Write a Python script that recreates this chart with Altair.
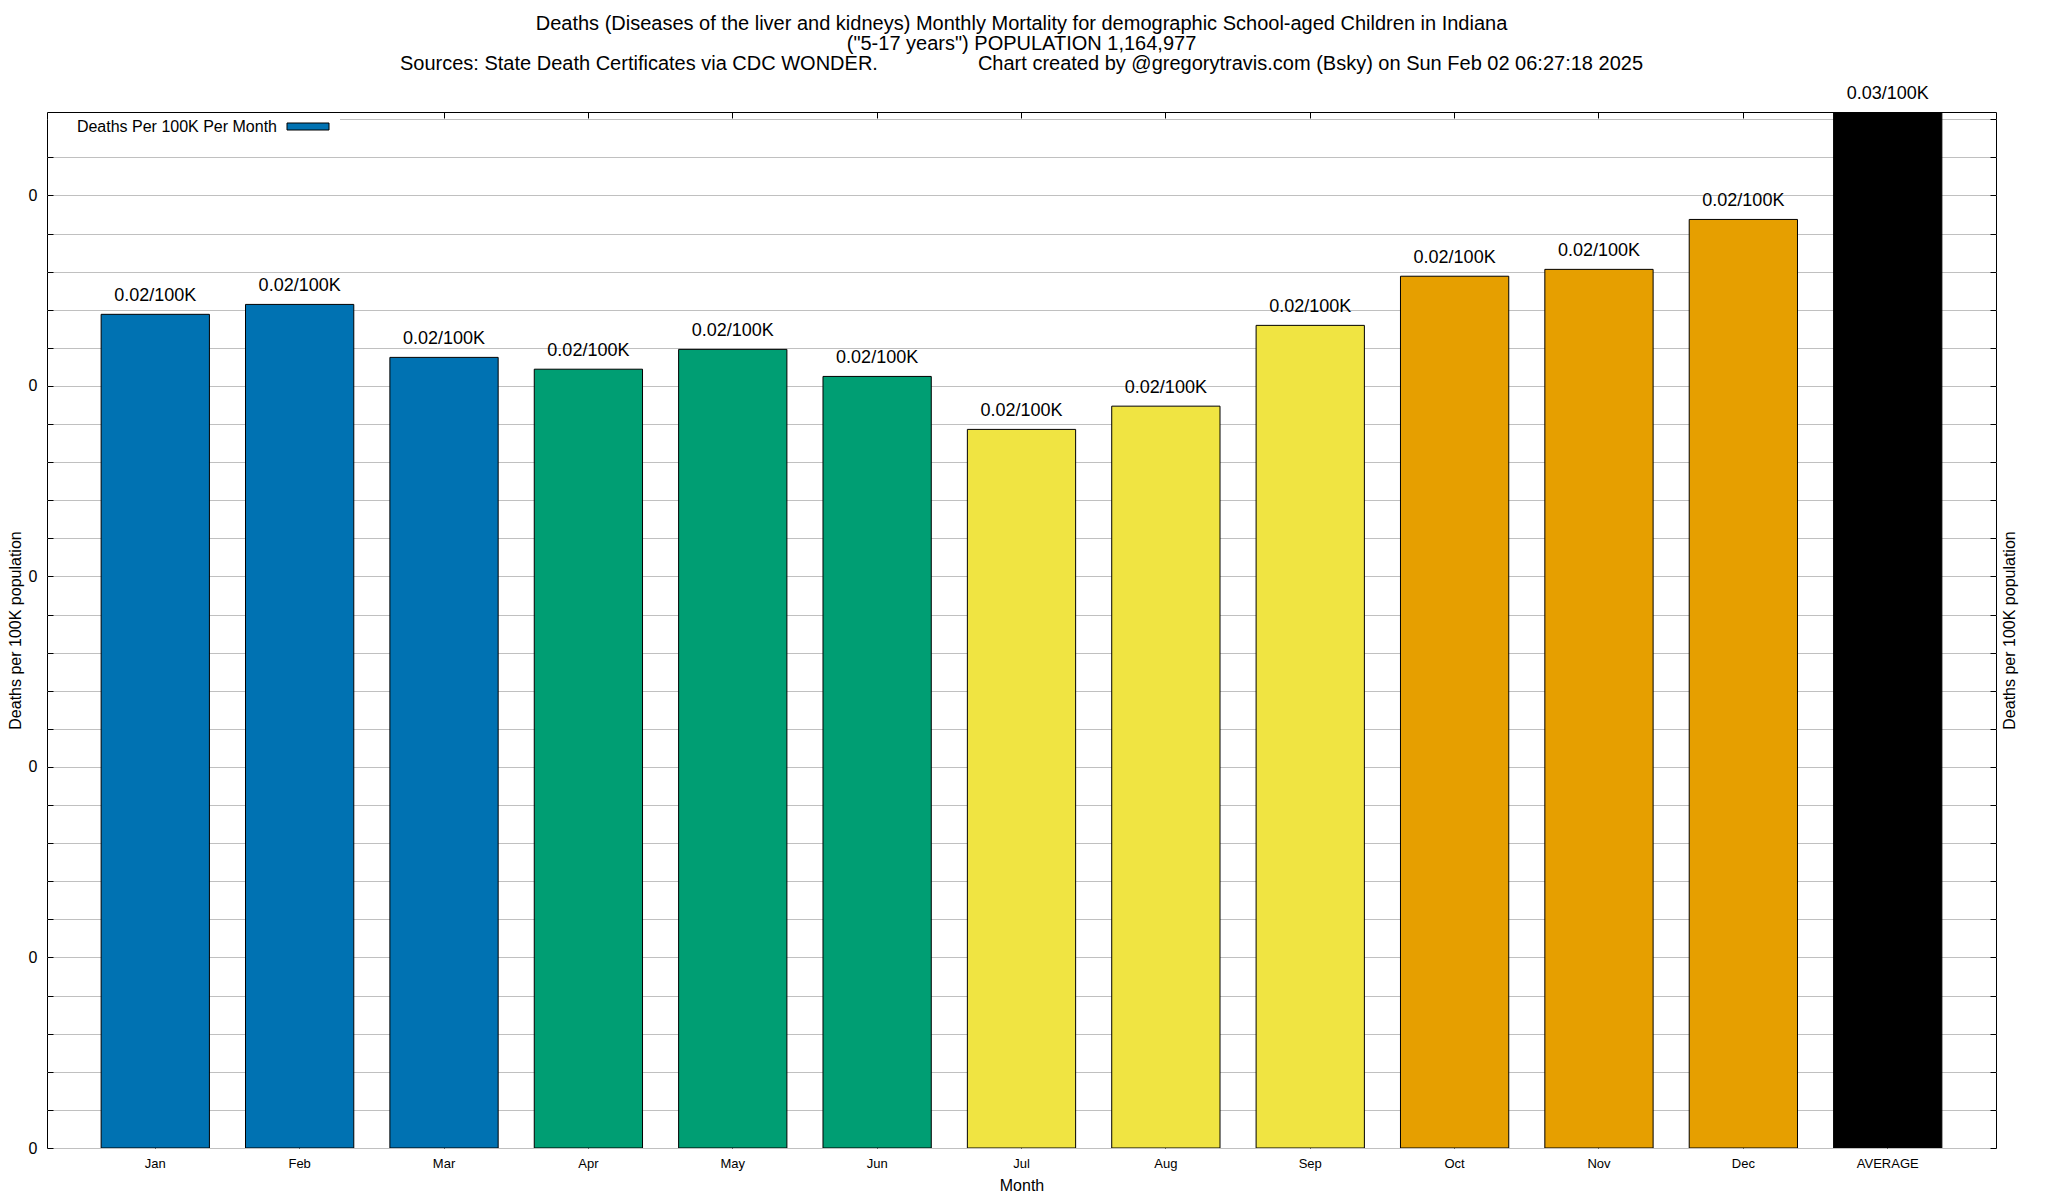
import altair as alt
import pandas as pd

# ---- data ----
months = ["Jan", "Feb", "Mar", "Apr", "May", "Jun", "Jul", "Aug", "Sep", "Oct", "Nov", "Dec", "AVERAGE"]
rates = [0.02188, 0.02214, 0.02075, 0.02044, 0.02096, 0.02025, 0.01886, 0.01947,
         0.02159, 0.02288, 0.02306, 0.02437, 0.02719]
groups = ["Q1", "Q1", "Q1", "Q2", "Q2", "Q2", "Q3", "Q3", "Q3", "Q4", "Q4", "Q4", "AVG"]
group_names = ["Q1", "Q2", "Q3", "Q4", "AVG"]
group_colors = ["#0072b2", "#009e73", "#f0e442", "#e69f00", "#000000"]
y_top = 0.02719
y_ticks = [round(i * 0.001, 3) for i in range(28)]
legend_label = ["Deaths Per 100K Per Month"]
title_lines = [
    "Deaths (Diseases of the liver and kidneys) Monthly Mortality for demographic School-aged Children in Indiana",
    "(\"5-17 years\") POPULATION 1,164,977",
    "Sources: State Death Certificates via CDC WONDER." + "\u00a0" * 18
    + "Chart created by @gregorytravis.com (Bsky) on Sun Feb 02 06:27:18 2025",
]

df = pd.DataFrame({"month": months, "value": rates, "group": groups})

FONT = "Liberation Sans"
W, H = 1949, 1036
TICK = 6

xscale = alt.Scale(domain=months, paddingInner=0.25, paddingOuter=0.375)
yscale = alt.Scale(domain=[0, y_top], nice=False, zero=True)

major_test = "round(datum.value*1000) % 5 == 0"

bars = alt.Chart(df).mark_bar(stroke="black", strokeWidth=1, clip=True).encode(
    x=alt.X("month:N", sort=months, scale=xscale, title="Month",
            axis=alt.Axis(orient="bottom", offset=-TICK, tickSize=TICK, tickColor="black",
                          domain=False, labelAngle=0, labelFontSize=13, labelPadding=9,
                          labelColor="black", titleFontSize=16, titleFontWeight="normal",
                          titlePadding=7, titleColor="black", grid=False)),
    y=alt.Y("value:Q", scale=yscale, title="Deaths per 100K population",
            axis=alt.Axis(orient="left", values=y_ticks, offset=-TICK, tickSize=TICK,
                          tickColor="black", domain=False, grid=True, gridColor="#c0c0c0",
                          gridWidth=1,
                          labelExpr=f"{major_test} ? format(datum.value, '.0f') : ''",
                          labelFontSize=16, labelPadding=10, labelColor="black",
                          titleFontSize=16, titleFontWeight="normal", titleColor="black",
                          titleAngle=270, titleX=-38, titleY=H / 2, titleBaseline="middle",
                          titleAlign="center")),
    fill=alt.Fill("group:N", scale=alt.Scale(domain=group_names, range=group_colors), legend=None),
)

labels = alt.Chart(df).transform_calculate(
    label="format(datum.value, '.2f') + '/100K'"
).mark_text(fontSize=18, baseline="middle", dy=-18, color="black").encode(
    x=alt.X("month:N", sort=months, scale=xscale, title=None,
            axis=alt.Axis(orient="top", offset=-TICK, tickSize=TICK, tickColor="black",
                          domain=False, labels=False, grid=False)),
    y=alt.Y("value:Q", scale=yscale, title="Deaths per 100K population",
            axis=alt.Axis(orient="right", values=y_ticks, offset=-TICK, tickSize=TICK,
                          tickColor="black", domain=False, grid=False, labels=False,
                          titleFontSize=16, titleFontWeight="normal", titleColor="black",
                          titleAngle=270, titleX=19, titleY=H / 2, titleBaseline="middle",
                          titleAlign="center")),
    text="label:N",
)

leg_df = pd.DataFrame({"t": legend_label})
leg_box = alt.Chart(leg_df).mark_rect(fill="white").encode(
    x=alt.value(1), x2=alt.value(293), y=alt.value(1), y2=alt.value(28))
leg_text = alt.Chart(leg_df).mark_text(fontSize=16, align="right", baseline="middle",
                                       color="black").encode(
    x=alt.value(230), y=alt.value(15), text="t:N")
leg_swatch = alt.Chart(leg_df).mark_rect(fill=group_colors[0], stroke="black",
                                         strokeWidth=1).encode(
    x=alt.value(240), x2=alt.value(282), y=alt.value(11), y2=alt.value(18))

chart = alt.layer(bars, labels, leg_box, leg_text, leg_swatch).resolve_axis(
    x="independent", y="independent"
).properties(
    width=W, height=H,
    autosize=alt.AutoSizeParams(type="none"),
    padding={"left": 39, "top": 104, "right": 44, "bottom": 44},
    title=alt.TitleParams(text=title_lines, anchor="middle", frame="group", offset=38,
                          dy=47, fontSize=20, lineHeight=20, font=FONT, fontWeight="normal",
                          color="black", baseline="bottom"),
    background="white",
).configure(font=FONT).configure_view(stroke="black", strokeWidth=1)

chart.save("out.html", embed_options={"renderer": "svg", "actions": False})
